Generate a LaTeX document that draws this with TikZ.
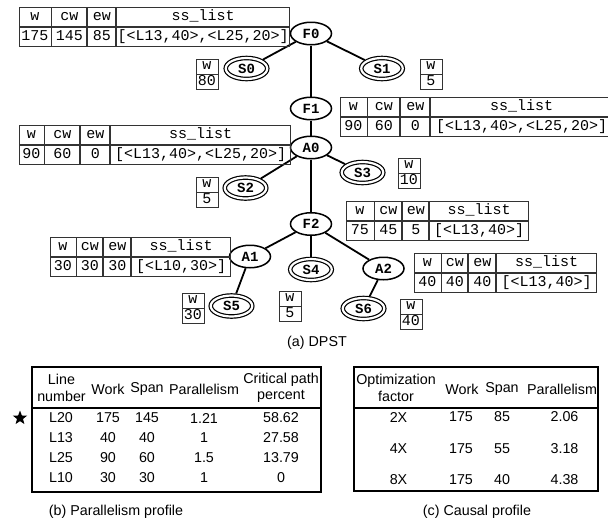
\documentclass[tikz,border=0pt]{standalone}
\usepackage{fontspec}
\setmainfont{Liberation Sans}
\setmonofont{Liberation Mono}
\usetikzlibrary{shapes.geometric, matrix, positioning}

\begin{document}
\begin{tikzpicture}[
		x=1pt, y=-1pt,
		font=\fontsize{14.3}{16.5}\selectfont,
		vertex/.style={draw, ellipse, line width=1.5pt, minimum width=41pt, minimum height=22.5pt, inner sep=0pt, font=\ttfamily\bfseries\fontsize{14}{14}\selectfont},
		leaf/.style={vertex, double, line width=1.2pt, double distance=2.2pt, minimum width=41.5pt, minimum height=21pt, outer sep=2.3pt},
		edge/.style={line width=1.8pt},
		cellfmt/.style={draw=black!80, line width=0.9pt, inner sep=0pt, outer sep=0pt, font=\ttfamily\fontsize{15}{15}\selectfont},
		tbl/.style={matrix of nodes, anchor=north west, column sep=0pt, row sep=0pt,
			nodes={cellfmt, minimum height=19.5pt, text height=10pt, text depth=3pt}},
		cols/.style n args={4}{column 1/.style={nodes={minimum width=#1}}, column 2/.style={nodes={minimum width=#2}},
			column 3/.style={nodes={minimum width=#3}}, column 4/.style={nodes={minimum width=#4}}},
		wbox/.style={matrix of nodes, anchor=north west, row sep=0pt,
			nodes={cellfmt, minimum width=22pt, minimum height=15pt, text height=9pt, text depth=2pt}},
		prof/.style={draw, line width=2.2pt}
	]
	\useasboundingbox (0,0) rectangle (608,523);

	% DPST tree
	\node[vertex] (F0) at (311,33.5) {F0};
	\node[leaf] (S0) at (246.5,68.5) {S0};
	\node[leaf] (S1) at (382,68.5) {S1};
	\node[vertex] (F1) at (311,108.5) {F1};
	\node[vertex] (A0) at (311,147.5) {A0};
	\node[leaf] (S2) at (245.5,188) {S2};
	\node[leaf] (S3) at (362.5,172.5) {S3};
	\node[vertex] (F2) at (311,224) {F2};
	\node[vertex] (A1) at (250,256.5) {A1};
	\node[leaf] (S4) at (311,269.5) {S4};
	\node[vertex] (A2) at (383.5,268.5) {A2};
	\node[leaf] (S5) at (231.5,306) {S5};
	\node[leaf] (S6) at (363.5,308.5) {S6};

	\draw[edge] (F0) -- (S0);
	\draw[edge] (F0) -- (S1);
	\draw[edge] (F0) -- (F1);
	\draw[edge] (F1) -- (A0);
	\draw[edge] (A0) -- (S2);
	\draw[edge] (A0) -- (S3);
	\draw[edge] (A0) -- (F2);
	\draw[edge] (F2) -- (A1);
	\draw[edge] (F2) -- (S4);
	\draw[edge] (F2) -- (A2);
	\draw[edge] (A1) -- (S5);
	\draw[edge] (A2) -- (S6);

	% work tables
	\matrix[tbl, cols={32pt}{35pt}{28pt}{173pt}] (tF0) at (15,3) {w & cw & ew & ss\_list\\ 175 & 145 & 85 & {[<L13,40>,<L25,20>]}\\};
	\matrix[tbl, cols={27pt}{32pt}{29pt}{182pt}] (tF1) at (336,93) {w & cw & ew & ss\_list\\ 90 & 60 & 0 & {[<L13,40>,<L25,20>]}\\};
	\matrix[tbl, cols={25pt}{35pt}{29pt}{180pt}] (tA0) at (15,121) {w & cw & ew & ss\_list\\ 90 & 60 & 0 & {[<L13,40>,<L25,20>]}\\};
	\matrix[tbl, cols={28pt}{27pt}{26pt}{99pt}] (tF2) at (342,197) {w & cw & ew & ss\_list\\ 75 & 45 & 5 & {[<L13,40>]}\\};
	\matrix[tbl, cols={26pt}{26pt}{27pt}{99pt}] (tA1) at (46,233) {w & cw & ew & ss\_list\\ 30 & 30 & 30 & {[<L10,30>]}\\};
	\matrix[tbl, cols={27pt}{26pt}{27pt}{100pt}] (tA2) at (410,249) {w & cw & ew & ss\_list\\ 40 & 40 & 40 & {[<L13,40>]}\\};

	\matrix[wbox] (bS0) at (192,55) {w\\ 80\\};
	\matrix[wbox] (bS1) at (416,55) {w\\ 5\\};
	\matrix[wbox] (bS2) at (192,173) {w\\ 5\\};
	\matrix[wbox] (bS3) at (394,154) {w\\ 10\\};
	\matrix[wbox] (bS4) at (275,287) {w\\ 5\\};
	\matrix[wbox] (bS5) at (178,289) {w\\ 30\\};
	\matrix[wbox] (bS6) at (396,295) {w\\ 40\\};

	\node (capa) at (317,343) {(a) DPST};

	% parallelism profile
	\draw[prof] (32,367) rectangle (321,492);
	\draw[prof] (32,408) -- (321,408);
	\node[align=center] (hLine) at (61.5,388) {Line\\number};
	\node (hWork) at (108,389) {Work};
	\node (hSpan) at (147,389) {Span};
	\node (hPar) at (204,389) {Parallelism};
	\node[align=center] (hCrit) at (281,388) {Critical path\\percent};
	\foreach \lno/\wrk/\spn/\plm/\cpp [count=\r] in {L20/175/145/1.21/58.62, L13/40/40/1/27.58, L25/90/60/1.5/13.79, L10/30/30/1/0} {
		\node (pl\r) at (61,398+20*\r) {\lno};
		\node (pw\r) at (108,398+20*\r) {\wrk};
		\node (ps\r) at (147,398+20*\r) {\spn};
		\node (pp\r) at (204,398+20*\r) {\plm};
		\node (pc\r) at (281,398+20*\r) {\cpp};
	}
	\node[star, star points=5, star point ratio=2.4, fill, inner sep=0pt, minimum size=15pt] (mark) at (20,418) {};
	\node (capb) at (116,512) {(b) Parallelism profile};

	% causal profile
	\draw[prof] (354,367) rectangle (598,491);
	\draw[prof] (354,408) -- (598,408);
	\node[align=center] (hOpt) at (396,388) {Optimization\\factor};
	\node (hWork2) at (462,389) {Work};
	\node (hSpan2) at (502,389) {Span};
	\node (hPar2) at (562,389) {Parallelism};
	\foreach \fac/\spn/\plm/\yy [count=\r] in {2X/85/2.06/417, 4X/55/3.18/449, 8X/40/4.38/480} {
		\node (cf\r) at (398.5,\yy) {\fac};
		\node (cw\r) at (461,\yy) {175};
		\node (cs\r) at (502,\yy) {\spn};
		\node (cp\r) at (564.5,\yy) {\plm};
	}
	\node (capc) at (477,512) {(c) Causal profile};
\end{tikzpicture}
\end{document}
